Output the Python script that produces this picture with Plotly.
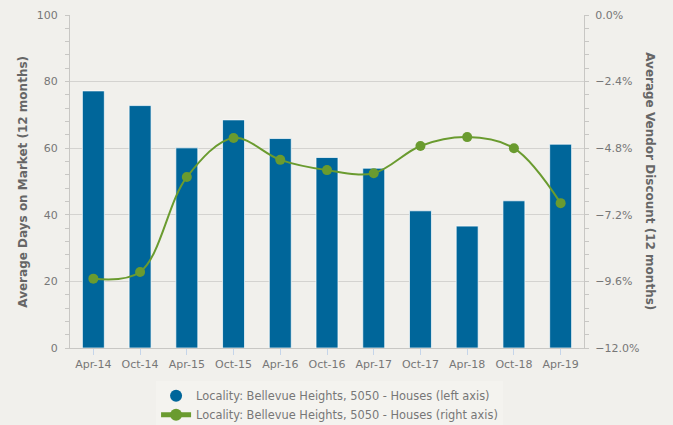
import plotly.graph_objects as go

categories = ["Apr-14", "Oct-14", "Apr-15", "Oct-15", "Apr-16", "Oct-16",
              "Apr-17", "Oct-17", "Apr-18", "Oct-18", "Apr-19"]
days_on_market = [77.2, 72.8, 60.1, 68.5, 62.9, 57.2, 54.0, 41.2, 36.6, 44.2, 61.2]
vendor_discount = [-9.5, -9.26, -5.84, -4.43, -5.22, -5.59, -5.7, -4.72, -4.4, -4.8, -6.78]

bar_name = "Locality: Bellevue Heights, 5050 - Houses (left axis)"
line_name = "Locality: Bellevue Heights, 5050 - Houses (right axis)"

BLUE = "#00669a"
GREEN = "#6a9b2f"
BG = "#f1f0ec"
FONT = "DejaVu Sans"

fig = go.Figure()
fig.add_trace(go.Bar(
    x=categories, y=days_on_market, name=bar_name, showlegend=False,
    marker=dict(color=BLUE, line=dict(color="rgba(255,255,255,0.7)", width=1)),
    yaxis="y",
))
# legend entry for bars (circle symbol)
fig.add_trace(go.Scatter(
    x=[None], y=[None], mode="markers", name=bar_name,
    marker=dict(color=BLUE, size=11, symbol="circle"), yaxis="y",
))
fig.add_trace(go.Scatter(
    x=categories, y=vendor_discount, name=line_name, mode="lines+markers",
    line=dict(color=GREEN, width=2, shape="spline", smoothing=1.0),
    marker=dict(color=GREEN, size=10), yaxis="y2",
))

grid = "#d4d3d0"
axis_line = "#c8c7c4"
fig.update_layout(
    width=673, height=425,
    margin=dict(l=70, r=89, t=15, b=77, autoexpand=False),
    paper_bgcolor=BG, plot_bgcolor=BG,
    font=dict(family=FONT, size=11, color="#777777"),
    bargap=0.53,
    showlegend=True,
    legend=dict(
        orientation="v", x=0.505, xanchor="center", y=-0.1, yanchor="top",
        bgcolor="#f4f3ef", font=dict(family=FONT, size=11.4, color="#777777"),
        itemsizing="constant", tracegroupgap=0, itemwidth=30,
    ),
    xaxis=dict(
        type="category", range=[-0.5, len(categories) - 0.5],
        showgrid=False, showline=True, linecolor=axis_line,
        ticks="outside", ticklen=6, tickcolor="#c5d5ea",
        tickfont=dict(family=FONT, size=11, color="#777777"),
    ),
    yaxis=dict(
        range=[0, 100], dtick=20, showgrid=True, gridcolor=grid, gridwidth=1,
        showline=True, linecolor=axis_line, ticks="outside", ticklen=4,
        tickcolor=axis_line, zeroline=False, ticklabelstandoff=5,
        minor=dict(dtick=4, ticks="outside", ticklen=4, tickcolor=axis_line, showgrid=False),
        tickfont=dict(family=FONT, size=11, color="#777777"),
    ),
    yaxis2=dict(
        overlaying="y", side="right", range=[-12, 0], dtick=2.4,
        tickformat=".1f", ticksuffix="%", showgrid=False,
        showline=True, linecolor=axis_line, ticks="outside", ticklen=4,
        tickcolor=axis_line, zeroline=False, ticklabelstandoff=4,
        minor=dict(dtick=0.48, ticks="outside", ticklen=4, tickcolor=axis_line, showgrid=False),
        tickfont=dict(family=FONT, size=11, color="#777777"),
    ),
    annotations=[
        dict(text="<b>Average Days on Market (12 months)</b>", xref="paper", yref="paper",
             x=-0.093, y=0.5, xanchor="center", yanchor="middle", textangle=-90,
             showarrow=False, font=dict(family=FONT, size=12, color="#666666")),
        dict(text="<b>Average Vendor Discount (12 months)</b>", xref="paper", yref="paper",
             x=1.129, y=0.5, xanchor="center", yanchor="middle", textangle=90,
             showarrow=False, font=dict(family=FONT, size=12, color="#666666")),
    ],
)

fig.write_html(
    "out.html",
    config={"displayModeBar": False},
    post_script="document.body.style.margin='0';document.body.style.background='%s';" % BG,
)
